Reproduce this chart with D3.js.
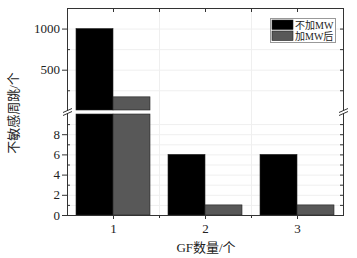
<!DOCTYPE html>
<html>
<head>
<meta charset="utf-8">
<script src="https://cdn.jsdelivr.net/npm/d3@7"></script>
<style>
  body { margin: 0; background: #fff; }
  svg text { font-family: "Liberation Serif", "Noto Sans CJK SC", serif; }
</style>
</head>
<body>
<div id="chart"></div>
<script>
// 数据
const categories = [1, 2, 3];
const noMW = [1000, 6, 6];      // 不加MW
const withMW = [170, 1, 1];     // 加MW后
const seriesNames = ["不加MW", "加MW后"];
const seriesColors = ["#000000", "#585858"];
const lowTicks = [0, 2, 4, 6, 8];
const highTicks = [500, 1000];

const W = 357, H = 258;
const pLeft = 67, pRight = 343, pTop = 8, pBottom = 215;
const breakLow = 114, breakHigh = 110;

const svg = d3.select("#chart").append("svg")
  .attr("width", W)
  .attr("height", H);

const x = d3.scaleLinear().domain([0.5, 3.5]).range([pLeft, pRight]);
const yLow = d3.scaleLinear().domain([0, 10]).range([pBottom, breakLow]);
const yHigh = d3.scaleLinear().domain([10, 1250]).range([breakHigh, pTop]);
const barW = 37;

// 网格线
const grid = svg.append("g").attr("stroke", "#efefef").attr("stroke-width", 1);
d3.range(1, 10).forEach(v => {
  grid.append("line").attr("x1", pLeft).attr("x2", pRight)
    .attr("y1", yLow(v) + 0.5).attr("y2", yLow(v) + 0.5);
});
[250, 500, 750, 1000].forEach(v => {
  grid.append("line").attr("x1", pLeft).attr("x2", pRight)
    .attr("y1", yHigh(v) + 0.5).attr("y2", yHigh(v) + 0.5);
});
[1.5, 2.5].forEach(v => {
  grid.append("line").attr("x1", x(v) + 0.5).attr("x2", x(v) + 0.5)
    .attr("y1", pTop).attr("y2", pBottom);
});

// 柱子
const series = [noMW, withMW];
series.forEach((vals, si) => {
  const g = svg.append("g");
  vals.forEach((v, i) => {
    const x0 = si === 0 ? x(categories[i]) - barW : x(categories[i]);
    const lowTop = yLow(Math.min(v, 10));
    g.append("rect")
      .attr("x", x0).attr("y", lowTop)
      .attr("width", barW).attr("height", pBottom - lowTop)
      .attr("fill", seriesColors[si])
      .attr("stroke", "#222").attr("stroke-width", 0.6);
    if (v > 10) {
      g.append("rect")
        .attr("x", x0).attr("y", yHigh(v))
        .attr("width", barW).attr("height", breakHigh - yHigh(v))
        .attr("fill", seriesColors[si])
        .attr("stroke", "#222").attr("stroke-width", 0.6);
    }
  });
});

// 坐标轴
const axisG = svg.append("g").attr("stroke", "#333").attr("stroke-width", 1).attr("fill", "none");
// 左右轴 (分两段)
[pLeft, pRight].forEach(px => {
  axisG.append("line").attr("x1", px + 0.5).attr("x2", px + 0.5).attr("y1", pTop).attr("y2", breakHigh);
  axisG.append("line").attr("x1", px + 0.5).attr("x2", px + 0.5).attr("y1", breakLow).attr("y2", pBottom);
});
axisG.append("line").attr("x1", pLeft).attr("x2", pRight + 1).attr("y1", pTop + 0.5).attr("y2", pTop + 0.5);
axisG.append("line").attr("x1", pLeft).attr("x2", pRight + 1).attr("y1", pBottom + 0.5).attr("y2", pBottom + 0.5);

// 断轴标记
[pLeft, pRight].forEach(px => {
  [-1.5, 1.5].forEach(dy => {
    axisG.append("line")
      .attr("x1", px - 4).attr("x2", px + 5)
      .attr("y1", 112 + dy + 2).attr("y2", 112 + dy - 2);
  });
});

// 左轴刻度
lowTicks.forEach(v => {
  axisG.append("line").attr("x1", pLeft - 5).attr("x2", pLeft).attr("y1", yLow(v) + 0.5).attr("y2", yLow(v) + 0.5);
});
[1, 3, 5, 7, 9].forEach(v => {
  axisG.append("line").attr("x1", pLeft).attr("x2", pLeft + 3).attr("y1", yLow(v) + 0.5).attr("y2", yLow(v) + 0.5);
});
highTicks.forEach(v => {
  axisG.append("line").attr("x1", pLeft - 5).attr("x2", pLeft).attr("y1", yHigh(v) + 0.5).attr("y2", yHigh(v) + 0.5);
});
[250, 750].forEach(v => {
  axisG.append("line").attr("x1", pLeft).attr("x2", pLeft + 3).attr("y1", yHigh(v) + 0.5).attr("y2", yHigh(v) + 0.5);
});

// 右轴刻度
d3.range(1, 10).forEach(v => {
  axisG.append("line").attr("x1", pRight - 3).attr("x2", pRight).attr("y1", yLow(v) + 0.5).attr("y2", yLow(v) + 0.5);
});
[250, 500, 750, 1000].forEach(v => {
  axisG.append("line").attr("x1", pRight - 3).attr("x2", pRight).attr("y1", yHigh(v) + 0.5).attr("y2", yHigh(v) + 0.5);
});

// 上下轴刻度
[1, 1.5, 2, 2.5, 3].forEach(v => {
  axisG.append("line").attr("x1", x(v) + 0.5).attr("x2", x(v) + 0.5).attr("y1", pTop).attr("y2", pTop + 4);
  const len = Number.isInteger(v) ? 4 : 3;
  axisG.append("line").attr("x1", x(v) + 0.5).attr("x2", x(v) + 0.5).attr("y1", pBottom).attr("y2", pBottom + len);
});

// 刻度文字
const labels = svg.append("g").attr("fill", "#222").attr("font-size", 13);
lowTicks.forEach(v => {
  labels.append("text").attr("x", pLeft - 7).attr("y", yLow(v)).attr("dy", "0.35em")
    .attr("text-anchor", "end").text(v);
});
highTicks.forEach(v => {
  labels.append("text").attr("x", pLeft - 7).attr("y", yHigh(v)).attr("dy", "0.35em")
    .attr("text-anchor", "end").text(v);
});
categories.forEach(c => {
  labels.append("text").attr("x", x(c) + 0.5).attr("y", pBottom + 13).attr("dy", "0.35em")
    .attr("text-anchor", "middle").text(c);
});

// 轴标题
svg.append("text")
  .attr("x", x(2) + 1).attr("y", 247).attr("dy", "0.35em")
  .attr("text-anchor", "middle").attr("font-size", 13).attr("fill", "#222")
  .text("GF数量/个");
svg.append("text")
  .attr("transform", "translate(13,113) rotate(-90)")
  .attr("dy", "0.35em")
  .attr("text-anchor", "middle").attr("font-size", 13).attr("fill", "#222")
  .text("不敏感周跳/个");

// 图例
const legend = svg.append("g");
legend.append("rect").attr("x", 270.5).attr("y", 18.5).attr("width", 65).attr("height", 24)
  .attr("fill", "#fff").attr("stroke", "#999").attr("stroke-width", 1);
seriesNames.forEach((name, i) => {
  legend.append("rect").attr("x", 272).attr("y", 20 + i * 11).attr("width", 21).attr("height", 9.5)
    .attr("fill", seriesColors[i]).attr("stroke", "#222").attr("stroke-width", 0.6);
  legend.append("text").attr("x", 295).attr("y", 25 + i * 11).attr("dy", "0.35em")
    .attr("font-size", 10).attr("fill", "#222").text(name);
});
</script>
</body>
</html>
